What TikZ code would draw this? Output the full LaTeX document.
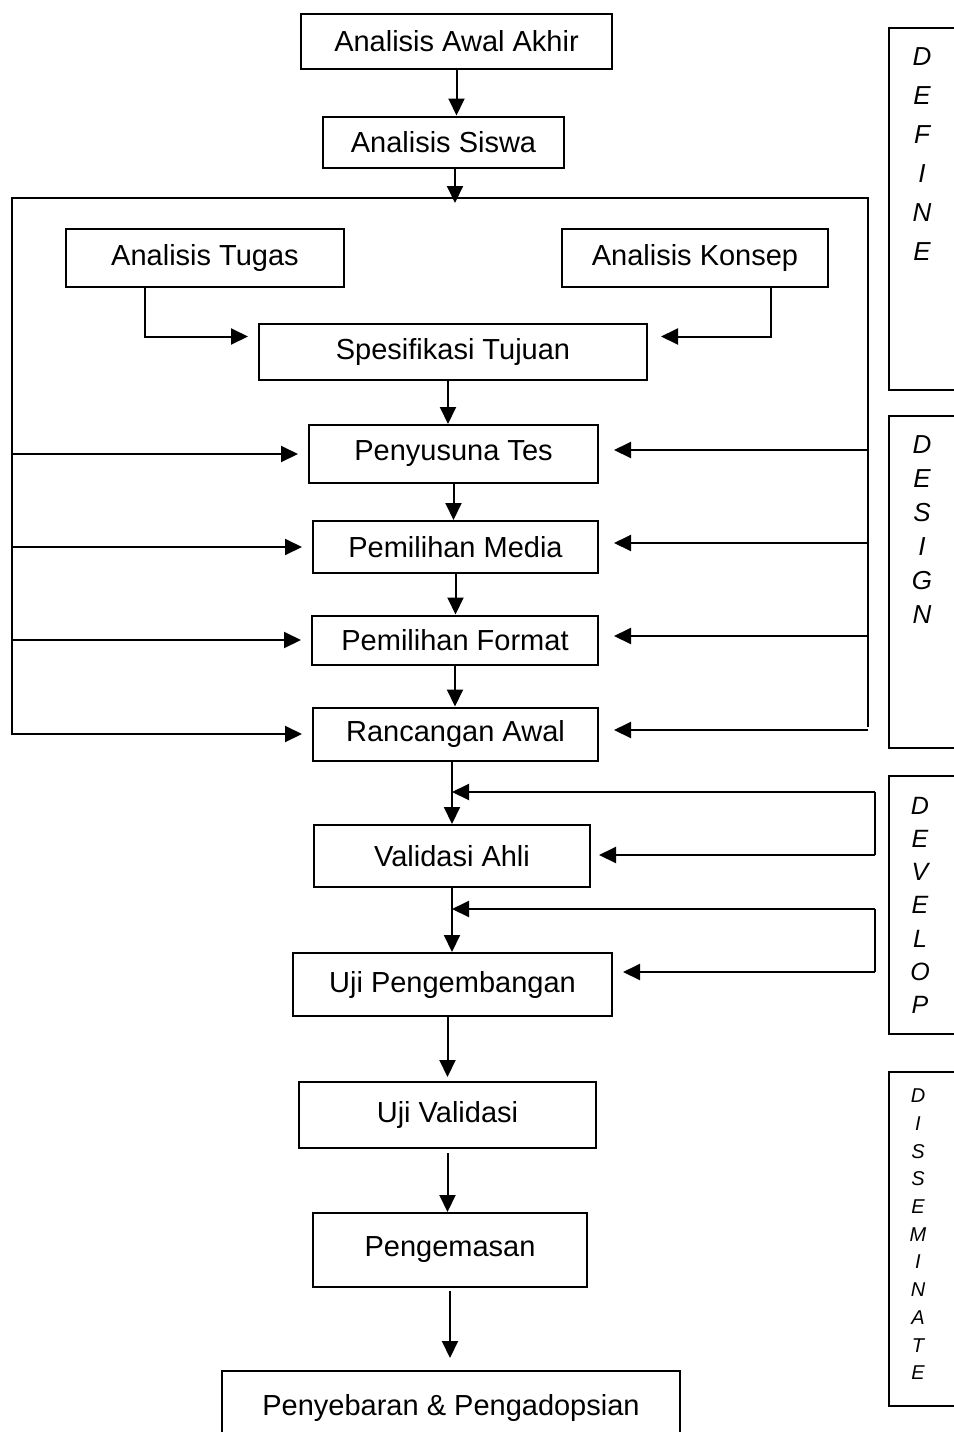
\documentclass[tikz,border=0pt]{standalone}
\usepackage{fontspec}
\setmainfont{Liberation Sans}
\usetikzlibrary{arrows.meta}

\begin{document}
\begin{tikzpicture}[x=1pt, y=-1pt, line width=2pt,
  stage/.style={rectangle, draw, inner sep=0pt, font=\fontsize{29}{34}\selectfont},
  arr/.style={-{Triangle[length=17pt, width=16pt]}},
  phase/.style={anchor=north, align=center, inner sep=0pt}]
\useasboundingbox (0,0) rectangle (953,1432);

\node [stage, minimum width=311pt, minimum height=55pt] (awal) at (456.5,41.5) {Analisis Awal Akhir};
\node [stage, minimum width=241pt, minimum height=51pt] (siswa) at (443.5,142) {Analisis Siswa};
\node [stage, minimum width=278pt, minimum height=58pt] (tugas) at (205,258) {Analisis Tugas};
\node [stage, minimum width=266pt, minimum height=58pt] (konsep) at (695,258) {Analisis Konsep};
\node [stage, minimum width=388pt, minimum height=56pt] (spes) at (453,351.5) {Spesifikasi Tujuan};
\node [stage, minimum width=289pt, minimum height=58pt] (tes) at (453.5,454) {Penyusuna Tes};
\node [stage, minimum width=285pt, minimum height=52pt] (media) at (455.5,547) {Pemilihan Media};
\node [stage, minimum width=286pt, minimum height=49pt] (format) at (455,640) {Pemilihan Format};
\node [stage, minimum width=285pt, minimum height=53pt] (rancangan) at (455.5,734) {Rancangan Awal};
\node [stage, minimum width=276pt, minimum height=62pt] (ahli) at (452,856) {Validasi Ahli};
\node [stage, minimum width=319pt, minimum height=63pt] (peng) at (452.5,984.5) {Uji Pengembangan};
\node [stage, minimum width=297pt, minimum height=66pt] (ujival) at (447.5,1115) {Uji Validasi};
\node [stage, minimum width=274pt, minimum height=74pt] (kemas) at (450,1250) {Pengemasan};
\node [stage, minimum width=458pt, minimum height=74pt] (sebar) at (451,1408) {Penyebaran \& Pengadopsian};

% frame round the design steps
\coordinate (fl) at (12,198);
\coordinate (fr) at (868,198);
\coordinate (ftop) at (455,203);
\draw (12,735) -- (fl) -- (fr) -- (868,727);

\draw [arr] (awal.south) -- (awal.south |- siswa.north);
\draw [arr] (ftop |- siswa.south) -- (ftop);
\draw [arr, shorten >=10pt] ([xshift=-60pt]tugas.south) |- ([yshift=15pt]spes.west);
\draw [arr, shorten >=13pt] ([xshift=76pt]konsep.south) |- ([yshift=15pt]spes.east);
\draw [arr] ([xshift=-5pt]spes.south) -- ([xshift=-5pt]spes.south |- tes.north);
\draw [arr] (tes.south) -- (tes.south |- media.north);
\draw [arr] (media.south) -- (media.south |- format.north);
\draw [arr] (format.south) -- (format.south |- rancangan.north);

\draw [arr, shorten >=10pt] (tes.west -| fl) -- (tes.west);
\draw [arr, shorten >=10pt] (media.west -| fl) -- (media.west);
\draw [arr, shorten >=10pt] (format.west -| fl) -- (format.west);
\draw [arr, shorten >=10pt] (rancangan.west -| fl) -- (rancangan.west);
\draw [arr, shorten >=15pt] ([yshift=4pt]tes.east -| fr) -- ([yshift=4pt]tes.east);
\draw [arr, shorten >=15pt] ([yshift=4pt]media.east -| fr) -- ([yshift=4pt]media.east);
\draw [arr, shorten >=15pt] ([yshift=4pt]format.east -| fr) -- ([yshift=4pt]format.east);
\draw [arr, shorten >=15pt] ([yshift=4pt]rancangan.east -| fr) -- ([yshift=4pt]rancangan.east);

\coordinate (fb1) at (875,792);
\coordinate (fb2) at (875,855);
\coordinate (fb3) at (875,909);
\coordinate (fb4) at (875,972);
\draw (fb1) -- (fb2);
\draw (fb3) -- (fb4);
\draw [arr] (rancangan.south -| ahli.north) -- (ahli.north);
\draw [arr] (fb1) -- (fb1 -| ahli.north);
\draw [arr, shorten >=8pt] (fb2) -- (fb2 -| ahli.east);
\draw [arr] (ahli.south) -- (ahli.south |- peng.north);
\draw [arr] (fb3) -- (fb3 -| ahli.south);
\draw [arr, shorten >=10pt] (fb4) -- (fb4 -| peng.east);
\draw [arr] (peng.south -| ujival.north) -- ([yshift=4pt]ujival.north);
\draw [arr] ([yshift=-4pt]ujival.south) -- (ujival.south |- kemas.north);
\draw [arr, shorten >=12pt] ([yshift=-3pt]kemas.south) -- (kemas.south |- sebar.north);

\draw (960,28) -| (889,390) -- (960,390);
\draw (960,416) -| (889,748) -- (960,748);
\draw (960,776) -| (889,1034) -- (960,1034);
\draw (960,1072) -| (889,1406) -- (960,1406);
\node [phase, font=\fontsize{26}{39}\selectfont\itshape] (define) at (922,47) {D\\E\\F\\I\\N\\E};
\node [phase, font=\fontsize{26}{34}\selectfont\itshape] (design) at (922,435) {D\\E\\S\\I\\G\\N};
\node [phase, font=\fontsize{25}{33.2}\selectfont\itshape] (develop) at (920,796) {D\\E\\V\\E\\L\\O\\P};
\node [phase, font=\fontsize{20}{27.7}\selectfont\itshape] (dissem) at (918,1088) {D\\I\\S\\S\\E\\M\\I\\N\\A\\T\\E};

\end{tikzpicture}
\end{document}
